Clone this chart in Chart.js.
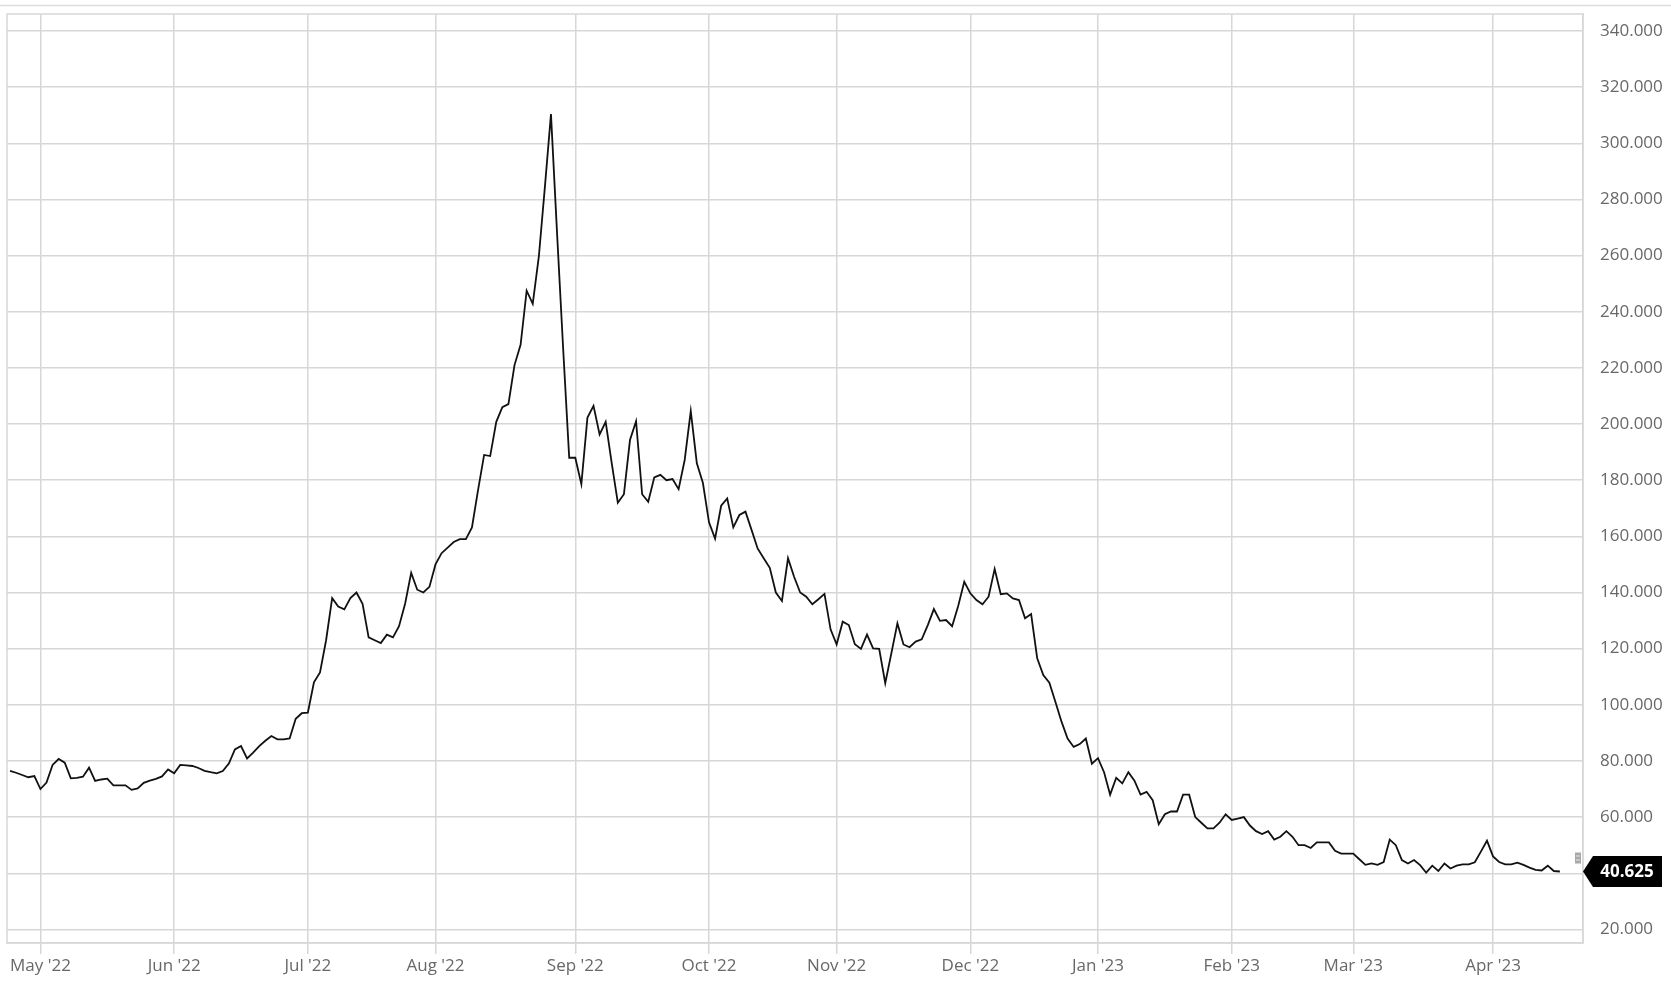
<!DOCTYPE html>
<html lang="en">
<head>
<meta charset="UTF-8">
<title>Price chart</title>
<script src="https://cdn.jsdelivr.net/npm/chart.js"></script>
<style>
  html, body { margin: 0; padding: 0; background: #fff; }
  canvas { display: block; }
</style>
</head>
<body>
<canvas id="myChart" width="1671" height="992"></canvas>
<script>
// one value per trading day, from late April 2022 to mid April 2023
const prices = [
  76.5, 75.8, 75.0, 74.2, 74.6, 70.0, 72.3, 78.6, 80.7, 79.4,
  73.8, 74.0, 74.4, 77.6, 72.9, 73.4, 73.7, 71.3, 71.3, 71.3,
  69.7, 70.2, 72.2, 73.0, 73.6, 74.5, 77.0, 75.6, 78.6, 78.4,
  78.2, 77.5, 76.5, 76.0, 75.6, 76.4, 79.1, 84.1, 85.3, 80.9,
  83.0, 85.3, 87.2, 88.9, 87.7, 87.7, 88.0, 95.0, 97.0, 97.2,
  108.0, 111.5, 123.0, 138.0, 135.0, 134.0, 138.0, 140.0, 136.0, 124.0,
  123.0, 122.0, 125.0, 124.0, 128.0, 136.0, 147.0, 141.0, 140.0, 142.0,
  150.0, 154.0, 156.0, 158.0, 159.0, 159.0, 163.2, 176.5, 189.0, 188.6,
  200.8, 206.0, 207.1, 221.0, 228.2, 247.5, 242.8, 259.6, 284.5, 310.4,
  268.0, 227.0, 188.0, 188.0, 178.6, 202.3, 206.5, 196.3, 200.8, 186.0,
  172.0, 175.0, 194.3, 201.0, 175.0, 172.3, 181.0, 181.9, 180.0, 180.4,
  176.8, 187.2, 204.6, 186.0, 179.0, 165.0, 159.2, 170.9, 173.5, 163.2,
  167.6, 168.8, 162.3, 155.7, 152.2, 148.8, 140.0, 137.0, 152.2, 145.6,
  140.0, 138.5, 135.8, 137.6, 139.5, 126.9, 121.5, 129.6, 128.4, 121.6,
  119.9, 125.0, 120.1, 119.9, 107.7, 118.3, 129.0, 121.5, 120.5, 122.5,
  123.3, 128.4, 134.1, 129.9, 130.2, 128.0, 135.2, 143.8, 139.7, 137.3,
  135.8, 138.5, 148.4, 139.4, 139.7, 137.9, 137.3, 130.8, 132.3, 116.6,
  110.6, 107.9, 101.0, 94.0, 88.0, 85.0, 86.0, 88.0, 79.0, 81.0,
  76.0, 68.0, 74.0, 72.0, 76.0, 73.0, 68.0, 69.0, 66.0, 57.5,
  61.0, 62.0, 62.0, 68.0, 68.0, 60.0, 58.0, 56.0, 56.0, 58.0,
  61.0, 59.0, 59.5, 60.0, 57.0, 55.0, 54.0, 55.0, 52.0, 53.0,
  55.0, 53.0, 50.0, 50.0, 49.0, 51.0, 51.0, 51.0, 48.0, 47.0,
  47.0, 47.0, 45.0, 43.0, 43.5, 43.0, 44.0, 52.0, 50.0, 44.7,
  43.5, 44.7, 42.9, 40.2, 42.7, 40.8, 43.5, 41.7, 42.7, 43.2,
  43.2, 43.9, 47.7, 51.6, 46.0, 44.0, 43.2, 43.2, 43.8, 43.0,
  42.0, 41.2, 41.0, 42.7, 40.8, 40.625
];

// first trading day of each month (index into prices) and its label
const monthIdx = [5, 27, 49, 70, 93, 115, 136, 158, 179, 201, 221, 244];
const monthLabels = ["May '22", "Jun '22", "Jul '22", "Aug '22", "Sep '22", "Oct '22",
  "Nov '22", "Dec '22", "Jan '23", "Feb '23", "Mar '23", "Apr '23"];

const yTicks = [20, 40, 60, 80, 100, 120, 140, 160, 180, 200, 220, 240, 260, 280, 300, 320, 340];

const points = prices.map((v, i) => ({ x: i, y: v }));
const lastPrice = prices[prices.length - 1];

const gridColor = '#d7d7d7';
const labelFont = { family: "'Open Sans', 'Noto Sans', sans-serif", size: 17 };

// frame, top rule and the last-price tag
const extras = {
  id: 'extras',
  beforeDraw(chart) {
    const ctx = chart.ctx;
    ctx.save();
    ctx.strokeStyle = '#dcdcdc';
    ctx.lineWidth = 1.5;
    ctx.beginPath();
    ctx.moveTo(0, 5.5);
    ctx.lineTo(chart.width, 5.5);
    ctx.stroke();
    ctx.restore();
  },
  afterDraw(chart) {
    const ctx = chart.ctx;
    const a = chart.chartArea;
    ctx.save();
    ctx.strokeStyle = gridColor;
    ctx.lineWidth = 1.5;
    ctx.strokeRect(a.left, a.top, a.right - a.left, a.bottom - a.top);

    const y = chart.scales.y.getPixelForValue(lastPrice);
    const x0 = a.right;
    ctx.fillStyle = '#000';
    ctx.beginPath();
    ctx.moveTo(x0, y);
    ctx.lineTo(x0 + 10, y - 15.5);
    ctx.lineTo(x0 + 79, y - 15.5);
    ctx.lineTo(x0 + 79, y + 15.5);
    ctx.lineTo(x0 + 10, y + 15.5);
    ctx.closePath();
    ctx.fill();
    ctx.fillStyle = '#fff';
    ctx.font = "bold 17px 'Open Sans', 'Noto Sans', sans-serif";
    ctx.textAlign = 'center';
    ctx.textBaseline = 'middle';
    ctx.fillText(lastPrice.toFixed(3), x0 + 44, y + 1);

    // small marker next to the tag
    ctx.fillStyle = '#a8a8a8';
    ctx.fillRect(x0 - 8, y - 19, 6, 11);
    ctx.fillStyle = '#e6e6e6';
    ctx.fillRect(x0 - 7, y - 16, 4, 1);
    ctx.fillRect(x0 - 7, y - 12, 4, 1);
    ctx.restore();
  }
};

new Chart(document.getElementById('myChart'), {
  type: 'line',
  data: {
    datasets: [{
      data: points,
      borderColor: '#111',
      borderWidth: 1.8,
      pointRadius: 0,
      tension: 0,
      fill: false
    }]
  },
  options: {
    responsive: false,
    animation: false,
    devicePixelRatio: 1,
    layout: { padding: { left: 7, top: 14, right: 0, bottom: 0 } },
    plugins: { legend: { display: false }, tooltip: { enabled: false } },
    scales: {
      x: {
        type: 'linear',
        min: -0.5,
        max: 258.8,
        afterBuildTicks: scale => { scale.ticks = monthIdx.map(v => ({ value: v })); },
        afterFit: scale => { scale.height = 49; },
        grid: { color: gridColor, lineWidth: 1.5, drawTicks: true, tickLength: 11, tickColor: gridColor },
        border: { display: true, color: gridColor, width: 1.5 },
        ticks: {
          autoSkip: false,
          maxRotation: 0,
          padding: 2,
          color: '#686868',
          font: labelFont,
          callback: v => monthLabels[monthIdx.indexOf(v)]
        }
      },
      y: {
        position: 'right',
        min: 15.16,
        max: 346.05,
        afterBuildTicks: scale => { scale.ticks = yTicks.map(v => ({ value: v })); },
        afterFit: scale => {
          scale.width = 88;
          scale.paddingTop = 0;
          scale.paddingBottom = 0;
        },
        grid: { color: gridColor, lineWidth: 1.5, drawTicks: false },
        border: { display: true, color: gridColor, width: 1.5 },
        ticks: {
          padding: 17,
          color: '#686868',
          font: labelFont,
          callback: v => v.toFixed(3)
        }
      }
    }
  },
  plugins: [extras]
});
</script>
</body>
</html>
